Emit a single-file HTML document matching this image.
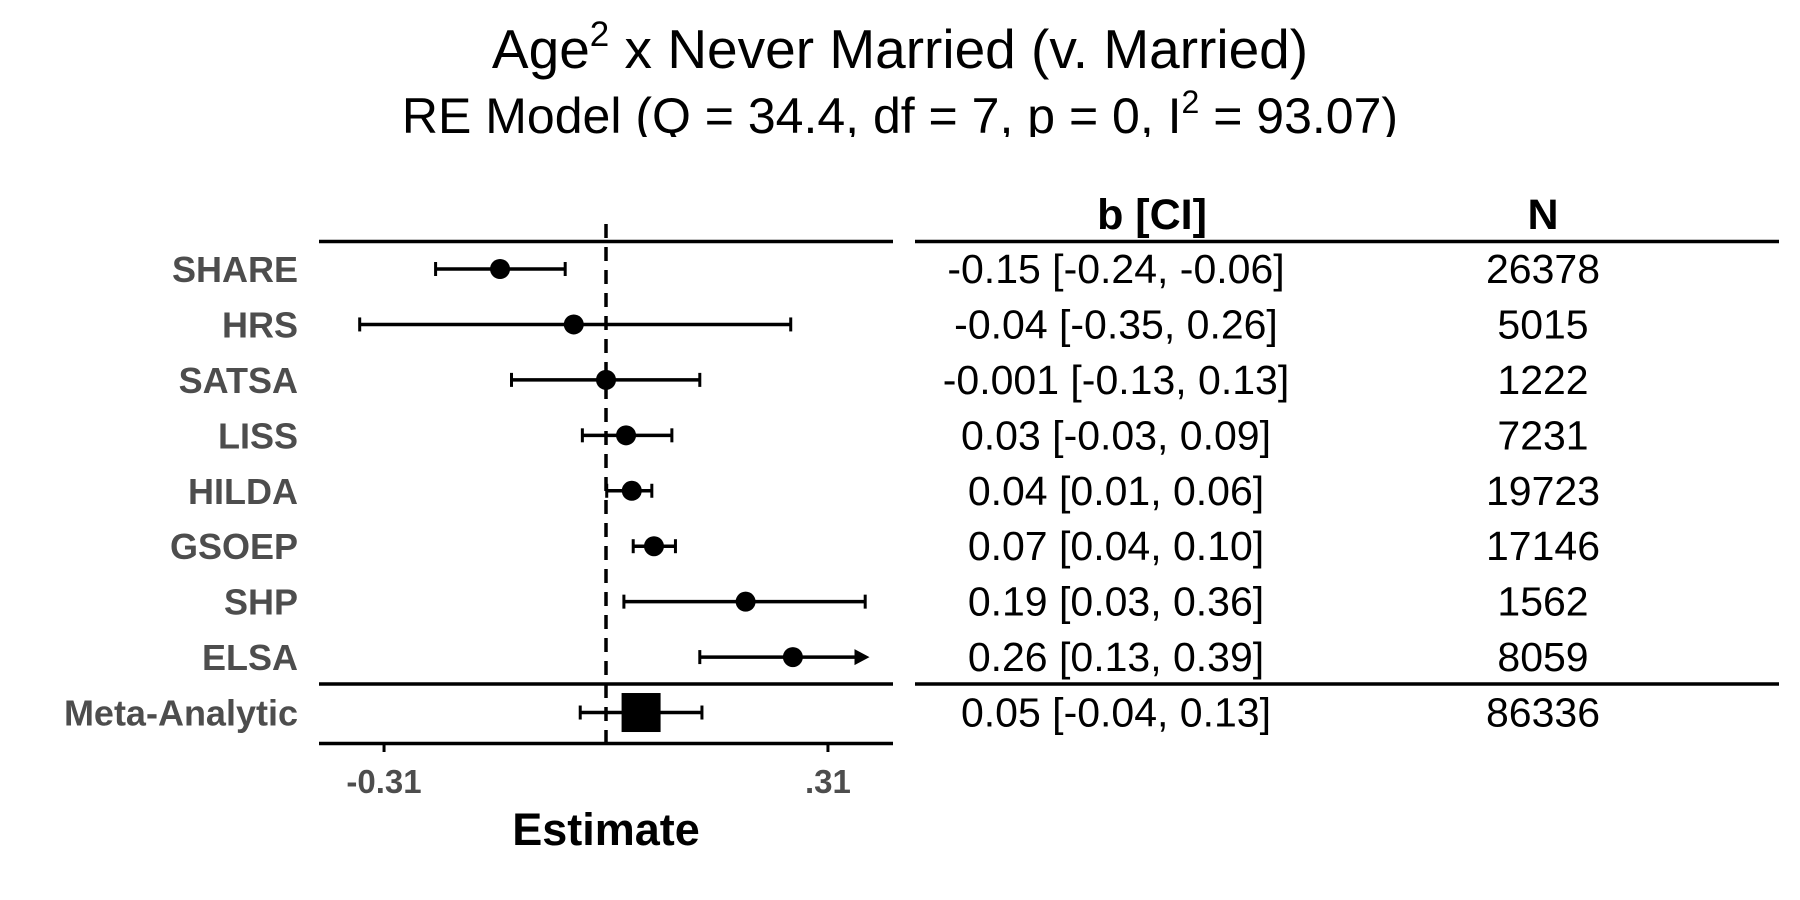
<!DOCTYPE html>
<html><head><meta charset="utf-8"><style>
body{margin:0;background:#fff;}
svg{display:block;font-family:"Liberation Sans",Arial,sans-serif;}
</style></head><body>
<svg id="chart" width="1800" height="900" viewBox="0 0 1800 900">
<defs><clipPath id="titleclip"><rect x="0" y="0" width="1800" height="137"/></clipPath></defs>
<g clip-path="url(#titleclip)">
<text x="900" y="68" text-anchor="middle" font-size="55">Age<tspan font-size="35" dy="-22">2</tspan><tspan dy="22"> x Never Married (v. Married)</tspan></text>
<text x="900" y="133" text-anchor="middle" font-size="50">RE Model (Q = 34.4, df = 7, p = 0, I<tspan font-size="32" dy="-20">2</tspan><tspan dy="20"> = 93.07)</tspan></text>
</g>
<line x1="319" x2="893" y1="241.5" y2="241.5" stroke="#000" stroke-width="3.5"/>
<line x1="319" x2="893" y1="684" y2="684" stroke="#000" stroke-width="3.5"/>
<line x1="319" x2="893" y1="743.5" y2="743.5" stroke="#000" stroke-width="3.5"/>
<line x1="915" x2="1779" y1="241.5" y2="241.5" stroke="#000" stroke-width="3.5"/>
<line x1="915" x2="1779" y1="684" y2="684" stroke="#000" stroke-width="3.5"/>
<text x="1152" y="229" text-anchor="middle" font-size="43" font-weight="bold">b [CI]</text>
<text x="1543" y="229" text-anchor="middle" font-size="43" font-weight="bold">N</text>
<text x="606" y="845" text-anchor="middle" font-size="45" font-weight="bold">Estimate</text>
<g id="marks"></g>
</svg>
<script>
const studies=["SHARE","HRS","SATSA","LISS","HILDA","GSOEP","SHP","ELSA","Meta-Analytic"];
const estimates=[-0.148,-0.045,0.0,0.028,0.036,0.067,0.195,0.261,0.049];
const lowers=[-0.238,-0.344,-0.132,-0.033,0.001,0.038,0.025,0.131,-0.036];
const uppers=[-0.057,0.258,0.131,0.092,0.064,0.097,0.362,0.39,0.134];
const ciLabels=["-0.15 [-0.24, -0.06]","-0.04 [-0.35, 0.26]","-0.001 [-0.13, 0.13]","0.03 [-0.03, 0.09]","0.04 [0.01, 0.06]","0.07 [0.04, 0.10]","0.19 [0.03, 0.36]","0.26 [0.13, 0.39]","0.05 [-0.04, 0.13]"];
const nLabels=["26378","5015","1222","7231","19723","17146","1562","8059","86336"];
const xTicks=[-0.31,0.31];
const xTickLabels=["-0.31",".31"];
const xMin=-0.40,xMax=0.368;
const x=v=>606+v*716;
const y=i=>269+i*55.44;
const NS="http://www.w3.org/2000/svg";
const g=document.getElementById('marks');
function mk(t,a){const e=document.createElementNS(NS,t);for(const k in a)e.setAttribute(k,a[k]);g.appendChild(e);return e;}
const zl=mk('line',{x1:x(0),x2:x(0),y1:224,y2:752,stroke:'#000','stroke-width':3.5,'stroke-dasharray':'14,9'});


xTicks.forEach((t,i)=>{
  const tk=mk('line',{x1:x(t),x2:x(t),y1:743,y2:752,stroke:'#000','stroke-width':3});
  
  
  const tl=mk('text',{x:x(t),y:793,'text-anchor':'middle','font-size':33,'font-weight':'bold',fill:'#4d4d4d'});
  tl.textContent=xTickLabels[i];
  
  
});
studies.forEach((s,i)=>{
  const yy=y(i);
  const lab=mk('text',{x:298,y:yy+13,'text-anchor':'end','font-size':36,'font-weight':'bold',fill:'#4d4d4d'});
  lab.textContent=s;
  
  
  const lo=Math.max(lowers[i],xMin),hiRaw=uppers[i],clipped=hiRaw>xMax,hi=Math.min(hiRaw,xMax);
  const bar=mk('line',{x1:x(lo),x2:x(hi)-(clipped?8:0),y1:yy,y2:yy,stroke:'#000','stroke-width':3.5});
  
  
  const c1=mk('line',{x1:x(lo),x2:x(lo),y1:yy-7,y2:yy+7,stroke:'#000','stroke-width':3});
  
  
  if(clipped){
    const ar=mk('polygon',{points:`${x(hi)},${yy} ${x(hi)-15},${yy-8} ${x(hi)-15},${yy+8}`,fill:'#000'});
    
    
  } else {
    const c2=mk('line',{x1:x(hi),x2:x(hi),y1:yy-7,y2:yy+7,stroke:'#000','stroke-width':3});
    
    
  }
  if(i===studies.length-1){
    const sq=mk('rect',{x:x(estimates[i])-19.5,y:yy-19.5,width:39,height:39,fill:'#000'});
    
    
  } else {
    const pt=mk('circle',{cx:x(estimates[i]),cy:yy,r:10,fill:'#000'});
    
    
  }
  const ct=mk('text',{x:1116,y:yy+14,'text-anchor':'middle','font-size':41});
  ct.textContent=ciLabels[i];
  
  
  const nt=mk('text',{x:1543,y:yy+14,'text-anchor':'middle','font-size':41});
  nt.textContent=nLabels[i];
  
  
});
</script>
</body></html>
